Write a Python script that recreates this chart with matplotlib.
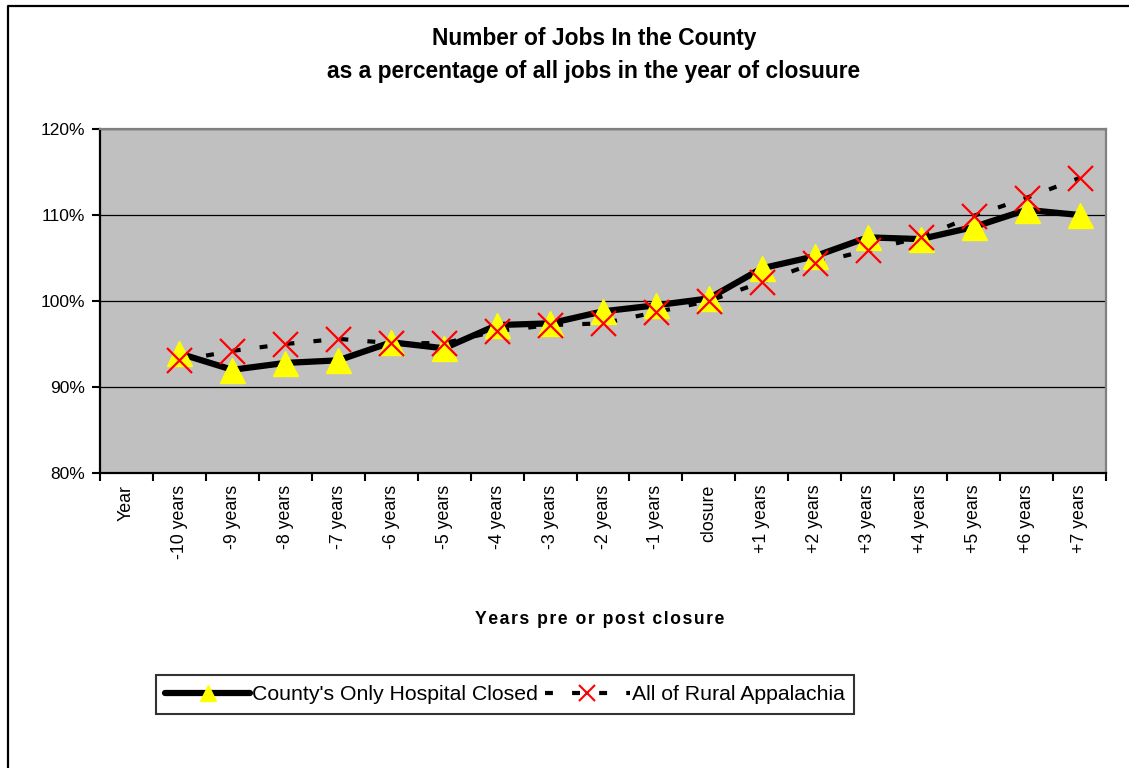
import numpy as np
import matplotlib.pyplot as plt
from matplotlib.lines import Line2D

plt.rcParams['font.family'] = ['Liberation Sans', 'DejaVu Sans']

# x categories (first slot "Year" has no data)
categories = ["Year", "-10 years", "-9 years", "-8 years", "-7 years", "-6 years",
              "-5 years", "-4 years", "-3 years", "-2 years", "-1 years", "closure",
              "+1 years", "+2 years", "+3 years", "+4 years", "+5 years", "+6 years",
              "+7 years"]

# percent of jobs relative to year of closure
hospital_closed = [np.nan, 93.9, 92.0, 92.8, 93.1, 95.2, 94.5, 97.2, 97.4, 98.8,
                   99.5, 100.3, 103.8, 105.2, 107.4, 107.2, 108.6, 110.6, 110.0]
rural_appalachia = [np.nan, 93.1, 94.2, 95.0, 95.6, 95.1, 95.1, 96.5, 97.2, 97.4,
                    98.7, 100.0, 102.2, 104.4, 105.9, 107.4, 109.9, 112.0, 114.3]

yticks = [80, 90, 100, 110, 120]

def main():
    fig = plt.figure(figsize=(11.29, 7.68), dpi=100)
    W, H = 1129.0, 768.0
    ax = fig.add_axes([100 / W, 1 - 473 / H, 1006 / W, 344 / H])
    ax.set_facecolor('#c0c0c0')

    x = np.arange(len(categories))
    dash = (0, (1.9, 4.6))

    # lines first, then markers on top
    ax.plot(x, rural_appalachia, color='black', lw=3, linestyle=dash,
            dash_capstyle='butt', zorder=3)
    ax.plot(x, hospital_closed, color='black', lw=4.5, zorder=3.1,
            solid_capstyle='round', solid_joinstyle='round')
    ax.plot(x, hospital_closed, linestyle='none', marker='^', ms=18,
            mfc='yellow', mec='yellow', zorder=4, clip_on=False)
    ax.plot(x, rural_appalachia, linestyle='none', marker='x', ms=18,
            mec='red', mew=1.6, zorder=5, clip_on=False)

    ax.set_xlim(-0.5, len(categories) - 0.5)
    ax.set_ylim(80, 120)
    ax.set_yticks(yticks)
    ax.set_yticklabels(["%d%%" % v for v in yticks], fontsize=12.5)
    ax.tick_params(axis='y', direction='out', length=6, width=1.5, pad=5)

    ax.set_xticks(x)
    ax.set_xticklabels(categories, rotation=90, fontsize=12.8)
    ax.set_xticks(np.arange(-0.5, len(categories)), minor=True)
    ax.tick_params(axis='x', which='major', length=0, pad=8.5)
    ax.tick_params(axis='x', which='minor', direction='out', length=6, width=1.5)

    ax.grid(axis='y', color='black', lw=0.9)
    ax.set_axisbelow(True)
    for s in ['left', 'bottom']:
        ax.spines[s].set_color('black')
        ax.spines[s].set_linewidth(1.6)
    for s in ['top', 'right']:
        ax.spines[s].set_color('#808080')
        ax.spines[s].set_linewidth(1.6)

    fig.text(594 / W, 1 - 55 / H,
             "Number of Jobs In the County\nas a percentage of all jobs in the year of closuure",
             ha='center', va='center', fontsize=16.4, fontweight='bold', linespacing=1.6)

    xlabel = "\u200a".join("Years pre or post closure")
    fig.text(600 / W, 1 - 619 / H, xlabel, ha='center', va='center',
             fontsize=12.7, fontweight='bold')

    h1 = Line2D([], [], color='black', lw=4.5, marker='^', ms=11,
                mfc='yellow', mec='yellow', solid_capstyle='round')
    h2 = Line2D([], [], color='black', lw=3, linestyle=dash, marker='x', ms=11,
                mec='red', mew=1.5)
    leg = fig.legend([h1, h2], ["County's Only Hospital Closed", "All of Rural Appalachia"],
                     loc='center', bbox_to_anchor=(505 / W, 1 - 694.5 / H), ncol=2,
                     fontsize=15.3, frameon=True, fancybox=False, handlelength=4.0,
                     handletextpad=0.1, columnspacing=0.3, borderpad=0.45,
                     borderaxespad=0)
    leg.get_frame().set_edgecolor('black')
    leg.get_frame().set_linewidth(1.5)

    # outer chart border (left and top edges visible)
    fig.add_artist(Line2D([8 / W, 8 / W, 1.0], [0.0, 1 - 6 / H, 1 - 6 / H],
                          transform=fig.transFigure, color='black', lw=1.6))

    fig.savefig('out.png', dpi=100)

if __name__ == "__main__":
    main()
